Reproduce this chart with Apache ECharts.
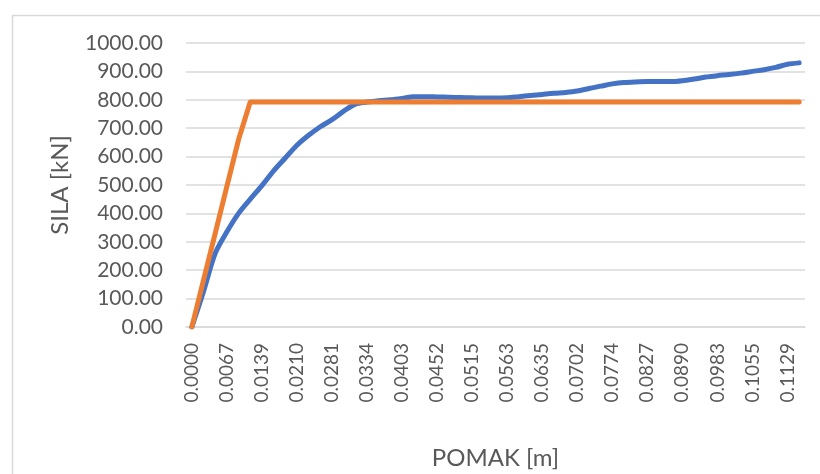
<!DOCTYPE html>
<html>
<head>
<meta charset="utf-8">
<script src="https://cdn.jsdelivr.net/npm/echarts@6/dist/echarts.min.js"></script>
<style>html,body{margin:0;padding:0;background:#fff}#c{width:820px;height:474px}</style>
</head>
<body>
<div id="c"></div>
<script>
// Categories: POMAK [m] (every third label is visible in the reference)
var categories = [
  '0.0000','0.0022','0.0045','0.0067','0.0091','0.0115','0.0139','0.0163','0.0186','0.0210',
  '0.0234','0.0257','0.0281','0.0299','0.0316','0.0334','0.0357','0.0380','0.0403','0.0419',
  '0.0435','0.0452','0.0473','0.0494','0.0515','0.0531','0.0547','0.0563','0.0587','0.0611',
  '0.0635','0.0657','0.0680','0.0702','0.0726','0.0750','0.0774','0.0792','0.0809','0.0827',
  '0.0848','0.0869','0.0890','0.0921','0.0952','0.0983','0.1007','0.1031','0.1055','0.1080',
  '0.1104','0.1129','0.1160'
];
// Blue series: measured force [kN]
var silaBlue = [
  0, 125, 259, 335, 400, 450, 498, 550, 595, 640,
  675, 705, 730, 760, 785, 792, 797, 800, 805, 811,
  811, 810, 809, 808, 807, 806, 806, 807, 811, 815,
  819, 823, 826, 831, 840, 848, 856, 861, 863, 864,
  864, 864, 867, 873, 880, 885, 889, 894, 900, 906,
  914, 925, 930
];
// Orange series: idealised bilinear force [kN]
var silaOrange = [
  0, 165, 330, 495, 660, 792, 792, 792, 792, 792,
  792, 792, 792, 792, 792, 792, 792, 792, 792, 792,
  792, 792, 792, 792, 792, 792, 792, 792, 792, 792,
  792, 792, 792, 792, 792, 792, 792, 792, 792, 792,
  792, 792, 792, 792, 792, 792, 792, 792, 792, 792,
  792, 792, 792
];
var yMin = 0, yMax = 1000, yStep = 100;

var chart = echarts.init(document.getElementById('c'), null, {renderer: 'canvas'});
var FONT = 'Lato';
chart.setOption({
  animation: false,
  backgroundColor: '#ffffff',
  graphic: [{
    type: 'rect', left: 10, top: 13, z: -10,
    shape: {width: 830, height: 480},
    style: {fill: 'none', stroke: '#d9d9d9', lineWidth: 1.5}
  }],
  grid: {left: 186, right: 15, top: 43, bottom: 147, containLabel: false, outerBoundsMode: 'none'},
  xAxis: {
    type: 'category',
    data: categories,
    boundaryGap: true,
    name: 'POMAK [m]',
    nameLocation: 'middle',
    nameGap: 119,
    nameTextStyle: {fontFamily: FONT, fontSize: 24, color: '#595959'},
    axisLine: {show: true, lineStyle: {color: '#d9d9d9', width: 1.5}},
    axisTick: {show: false},
    axisLabel: {
      interval: 2, rotate: 90, margin: 16,
      fontFamily: FONT, fontSize: 19, color: '#595959'
    },
    splitLine: {show: false}
  },
  yAxis: {
    type: 'value',
    min: yMin, max: yMax, interval: yStep,
    name: 'SILA [kN]',
    nameLocation: 'middle',
    nameGap: 114,
    nameTextStyle: {fontFamily: FONT, fontSize: 24, color: '#595959'},
    axisLine: {show: false},
    axisTick: {show: false},
    axisLabel: {
      margin: 23, fontFamily: FONT, fontSize: 21, color: '#595959',
      formatter: function (v) { return v.toFixed(2); }
    },
    splitLine: {lineStyle: {color: '#d9d9d9', width: 1.5}}
  },
  series: [
    {
      name: 'blue', type: 'line', data: silaBlue, showSymbol: false, smooth: 0.3,
      lineStyle: {color: '#4472C4', width: 5, cap: 'round', join: 'round'},
      itemStyle: {color: '#4472C4'}, z: 2
    },
    {
      name: 'orange', type: 'line', data: silaOrange, showSymbol: false,
      lineStyle: {color: '#ED7D31', width: 5, cap: 'round', join: 'round'},
      itemStyle: {color: '#ED7D31'}, z: 3
    }
  ]
});
</script>
</body>
</html>
